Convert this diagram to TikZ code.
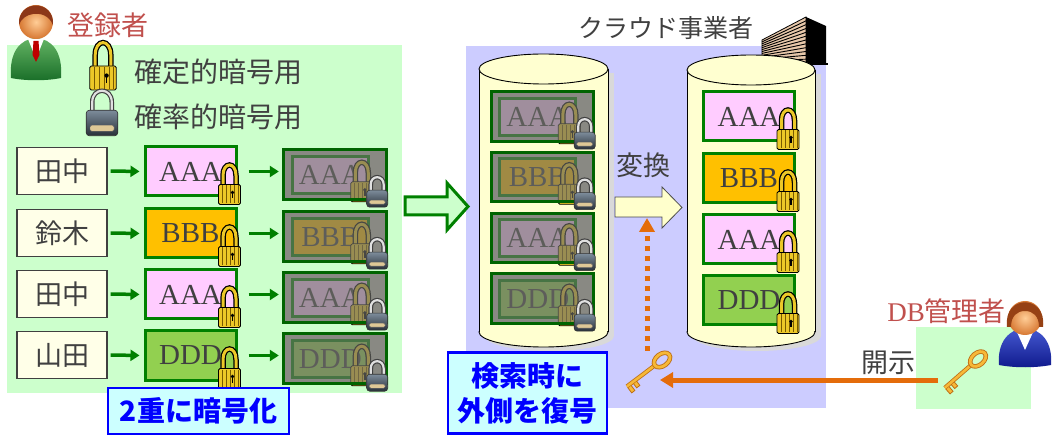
\documentclass[tikz,border=0pt]{standalone}
\usepackage{fontspec}
\setmainfont{Liberation Serif}
\newfontfamily\jpfont{Noto Sans CJK JP}
\usepackage{tikz}
\usetikzlibrary{positioning, arrows.meta, calc}

\definecolor{regpanel}{RGB}{204,255,204}
\definecolor{cloudpanel}{RGB}{204,204,255}
\definecolor{namefill}{RGB}{255,255,232}
\definecolor{cylfill}{RGB}{255,255,208}
\definecolor{boxpink}{RGB}{255,204,255}
\definecolor{boxorange}{RGB}{255,192,0}
\definecolor{boxgreen}{RGB}{146,208,80}
\definecolor{edgegreen}{RGB}{0,128,0}
\definecolor{deepgreen}{RGB}{0,100,0}
\definecolor{textgray}{RGB}{64,64,64}
\definecolor{rolered}{RGB}{192,80,77}
\definecolor{labelblue}{RGB}{0,0,255}
\definecolor{labelfill}{RGB}{204,255,255}
\definecolor{keyorange}{RGB}{228,108,10}
\definecolor{lockgold}{RGB}{236,200,40}
\definecolor{lockdark}{RGB}{120,90,0}
\definecolor{slatetop}{RGB}{125,140,155}
\definecolor{slatebot}{RGB}{40,48,56}
\definecolor{locktag}{RGB}{222,200,150}
\definecolor{keygold}{RGB}{246,184,56}
\definecolor{keyedge}{RGB}{190,110,20}
\definecolor{fadegray}{RGB}{110,110,105}
\definecolor{encbase}{RGB}{190,190,180}
\definecolor{convfill}{RGB}{255,255,204}
\definecolor{buildtan}{RGB}{232,200,170}
\definecolor{skinlight}{RGB}{255,205,150}
\definecolor{skindark}{RGB}{215,120,50}
\definecolor{hairred}{RGB}{140,55,25}
\definecolor{hairbrown}{RGB}{150,65,20}
\definecolor{suitlight}{RGB}{100,180,100}
\definecolor{suitdark}{RGB}{25,110,40}
\definecolor{bluelight}{RGB}{70,90,210}
\definecolor{bluedark}{RGB}{15,25,140}

\tikzset{
  pics/goldlock/.style={code={
    \draw[line width=5.5, black] (-6.5,-8) -- (-6.5,-19)
      .. controls (-6.5,-33) and (6.5,-33) .. (6.5,-19) -- (6.5,-8);
    \draw[line width=3, lockgold] (-6.5,-8) -- (-6.5,-19)
      .. controls (-6.5,-33) and (6.5,-33) .. (6.5,-19) -- (6.5,-8);
    \draw[fill=lockgold, line width=0.8, rounded corners=1.5]
      (-11,-10) rectangle (11,10);
    \foreach \sx in {-7,-3,1,5,9}
      \draw[lockdark, line width=1] (\sx,-9) -- (\sx,9);
    \fill[black] (3,-2) circle (1.8);
    \fill[black] (2.3,-2) rectangle (3.7,4);
  }},
  pics/greylock/.style={code={
    \draw[line width=4.5, black!75] (-6.5,-6) -- (-6.5,-14)
      .. controls (-6.5,-24) and (6.5,-24) .. (6.5,-14) -- (6.5,-6);
    \draw[line width=2.2, black!12] (-6.5,-6) -- (-6.5,-14)
      .. controls (-6.5,-24) and (6.5,-24) .. (6.5,-14) -- (6.5,-6);
    \shade[top color=slatetop, bottom color=slatebot, rounded corners=3]
      (-10.5,-8.5) rectangle (10.5,8.5);
    \draw[black!80, line width=0.6, rounded corners=3]
      (-10.5,-8.5) rectangle (10.5,8.5);
    \draw[fill=locktag, draw=black!60, line width=0.4, rounded corners=1.5]
      (-8,1.5) rectangle (8,5.5);
  }},
  pics/key/.style={code={
    \draw[keyedge, line width=4.2] (9,0) -- (44,0);
    \draw[keyedge, line width=0.8, fill=keygold]
      (33,-1.5) rectangle (37,-7) (40,-1.5) rectangle (44,-8);
    \draw[keygold, line width=2.6] (9,0) -- (44,0);
    \draw[keyedge, line width=4.5] (0,0) ellipse [x radius=9, y radius=6];
    \draw[keygold, line width=2.8] (0,0) ellipse [x radius=9, y radius=6];
  }},
  pics/registrant/.style={code={
    \shade[top color=suitlight, bottom color=suitdark]
      (-25,56) .. controls (-27,30) and (-16,17) .. (0,16)
      .. controls (16,17) and (27,30) .. (25,56)
      .. controls (10,59) and (-10,59) .. cycle;
    \fill[white] (-8,17) -- (8,17) -- (0,37) -- cycle;
    \fill[red!75!black] (-2.5,19) -- (2.5,19) -- (3.5,33) -- (0,40)
      -- (-3.5,33) -- cycle;
    \shade[inner color=skinlight, outer color=skindark] (0,0) circle (17);
    \fill[hairred] (-17,3) .. controls (-19,-23) and (19,-23) .. (17,3)
      .. controls (13,-7) and (4,-9) .. (-3,-8)
      .. controls (-10,-7) and (-15,-3) .. cycle;
  }},
  pics/dbadmin/.style={code={
    \shade[top color=bluelight, bottom color=bluedark]
      (-26,47) .. controls (-28,24) and (-16,11) .. (0,10)
      .. controls (16,11) and (28,24) .. (26,47)
      .. controls (10,50) and (-10,50) .. cycle;
    \fill[white] (-9,12) -- (9,12) -- (0,32) -- cycle;
    \shade[inner color=skinlight, outer color=skindark] (0,0) circle (17);
    \fill[hairbrown] (-18,9) .. controls (-22,-24) and (22,-24) .. (18,9)
      -- (14,9) .. controls (14,-2) and (8,-7) .. (0,-7)
      .. controls (-8,-7) and (-14,-2) .. (-14,9) -- cycle;
  }},
}

% plain box with its padlock
\newcommand{\lockbox}[4]{%
  \node[plainbox, fill=#3] (#1) at (#2) {#4};
  \pic[shift={(-8,-3)}] at (#1.south east) {goldlock};
}
% box locked twice: faded inner box, then the outer padlock
\newcommand{\encbox}[4]{%
  \node[encouter] (#1) at (#2) {};
  \node[plainbox, fill=#3, minimum width=76, minimum height=37,
    anchor=north west] (#1-in) at ([shift={(7,5)}]#1.north west) {#4};
  \pic[shift={(-8,-3)}] at (#1-in.south east) {goldlock};
  \fill[fadegray, opacity=0.65] (#1.north west) rectangle (#1.south east);
  \draw[deepgreen, line width=3] (#1.north west) rectangle (#1.south east);
  \pic[shift={(-9,-0.5)}] at (#1.south east) {greylock};
}
% database drum: left x, right x, top y, bottom y
\newcommand{\drum}[4]{%
  \pgfmathsetmacro{\dc}{(#1+#2)/2}\pgfmathsetmacro{\dr}{(#2-#1)/2}
  \fill[black!15] (#1+6,#3+4) rectangle (#2+6,#4+4);
  \fill[black!15] (\dc+6,#4+4) ellipse [x radius=\dr, y radius=15];
  \fill[cylfill] (#1,#3) rectangle (#2,#4);
  \fill[cylfill] (\dc,#4) ellipse [x radius=\dr, y radius=15];
  \begin{scope}
    \clip (#1-2,#4) rectangle (#2+2,#4+20);
    \draw[line width=0.9] (\dc,#4) ellipse [x radius=\dr, y radius=15];
  \end{scope}
  \draw[line width=0.9] (#1,#3) -- (#1,#4) (#2,#3) -- (#2,#4);
  \filldraw[line width=0.9, fill=cylfill] (\dc,#3)
    ellipse [x radius=\dr, y radius=15];
}

\begin{document}
\begin{tikzpicture}[
  x=1pt, y=-1pt,
  jptext/.style={font=\jpfont\fontsize{28}{28}\selectfont, text=textgray,
    inner sep=0pt},
  rolename/.style={font=\jpfont\fontsize{27}{27}\selectfont, text=rolered,
    inner sep=0pt},
  namebox/.style={draw=textgray, line width=1.2, fill=namefill,
    minimum width=90, minimum height=47, inner sep=0pt,
    font=\jpfont\fontsize{27}{27}\selectfont, text=textgray},
  plainbox/.style={draw=edgegreen, line width=3, minimum width=91,
    minimum height=49, inner sep=0pt, font=\fontsize{29}{29}\selectfont,
    text=textgray},
  encouter/.style={fill=encbase, minimum width=102, minimum height=49,
    inner sep=0pt},
  tag/.style={draw=labelblue, line width=2.5, fill=labelfill,
    text=labelblue, align=center, inner sep=0pt,
    font=\jpfont\bfseries\fontsize{28}{35}\selectfont},
  rowarrow/.style={-{Triangle[length=9, width=11]}, line width=3.5,
    edgegreen},
  bigarrow/.style={fill=regpanel, draw=edgegreen, line width=3,
    line join=miter},
  convarrow/.style={fill=convfill, draw=black!70, line width=0.8},
  disclose/.style={-{Triangle[length=13, width=15]}, line width=5,
    keyorange},
  decrypt/.style={-{Triangle[length=14, width=15]}, line width=5,
    keyorange, dash pattern=on 5 off 5},
]
\useasboundingbox (0,0) rectangle (1057,435);

% ── Panels ──────────────────────────────────────────────
\fill[regpanel] (7,45) rectangle (402,393);
\fill[cloudpanel] (466,46) rectangle (826,408);
\fill[regpanel] (916,327) rectangle (1031,409);

% ── Registrant and legend ───────────────────────────────
\pic at (36,22) {registrant};
\node[rolename] (regname) at (108,25) {登録者};

\pic[scale=1.2] at (103,78) {goldlock};
\node[jptext, anchor=west] (legdet) at (134,72) {確定的暗号用};
\pic[scale=1.5] at (102,123) {greylock};
\node[jptext, anchor=west] (legprob) at (134,117) {確率的暗号用};

% ── Rows: name -> encrypted -> encrypted twice ──────────
\node[namebox] (n1) at (62,171) {田中};
\node[namebox] (n2) at (62,233) {鈴木};
\node[namebox] (n3) at (62,294) {田中};
\node[namebox] (n4) at (62,355) {山田};

\lockbox{p1}{190.5,171.5}{boxpink}{AAA}
\lockbox{p2}{190.5,233.5}{boxorange}{BBB}
\lockbox{p3}{190.5,294.5}{boxpink}{AAA}
\lockbox{p4}{190.5,355.5}{boxgreen}{DDD}

\encbox{e1}{335,174.5}{boxpink}{AAA}
\encbox{e2}{335,236.5}{boxorange}{BBB}
\encbox{e3}{335,297.5}{boxpink}{AAA}
\encbox{e4}{335,358.5}{boxgreen}{DDD}

\draw[rowarrow, shorten <=3pt, shorten >=4pt] (n1.east) -- (p1.west);
\draw[rowarrow, shorten <=3pt, shorten >=4pt] (n2.east) -- (p2.west);
\draw[rowarrow, shorten <=3pt, shorten >=4pt] (n3.east) -- (p3.west);
\draw[rowarrow, shorten <=3pt, shorten >=4pt] (n4.east) -- (p4.west);
\draw[rowarrow, shorten <=11pt, shorten >=5pt] (p1.east) -- (p1.east -| e1.west);
\draw[rowarrow, shorten <=11pt, shorten >=5pt] (p2.east) -- (p2.east -| e2.west);
\draw[rowarrow, shorten <=11pt, shorten >=5pt] (p3.east) -- (p3.east -| e3.west);
\draw[rowarrow, shorten <=11pt, shorten >=5pt] (p4.east) -- (p4.east -| e4.west);

\node[tag, minimum width=181, minimum height=46] (twice) at (198.5,411)
  {2重に暗号化};

% hand-over to the cloud
\draw[bigarrow] (405,197) -- (447,197) -- (447,183) -- (468,206.5)
  -- (447,230) -- (447,215) -- (405,215) -- cycle;

% ── Cloud operator ──────────────────────────────────────
\node[jptext, font=\jpfont\fontsize{25}{25}\selectfont] (cloudname)
  at (666,28) {クラウド事業者};

% building
\fill[buildtan, draw=black, line width=0.8]
  (762,40) -- (806,17) -- (806,63) -- (762,63) -- cycle;
\foreach \k in {1,...,11}
  \draw[line width=0.9] (762,40+\k*23/12) -- (806,17+\k*46/12);
\fill[black] (806,17) -- (826,26) -- (826,63) -- (806,63) -- cycle;
\draw[line width=1.2] (757,64) -- (828,64);

% stored with both locks
\drum{479}{608}{69}{332}
\encbox{s1}{542.5,116.5}{boxpink}{AAA}
\encbox{s2}{542.5,177}{boxorange}{BBB}
\encbox{s3}{542.5,238}{boxpink}{AAA}
\encbox{s4}{542.5,298.5}{boxgreen}{DDD}

% outer lock removed
\drum{687}{815}{70}{332}
\lockbox{r1}{749,116.5}{boxpink}{AAA}
\lockbox{r2}{749,178.5}{boxorange}{BBB}
\lockbox{r3}{749,239.5}{boxpink}{AAA}
\lockbox{r4}{749,300.5}{boxgreen}{DDD}

\node[jptext, font=\jpfont\fontsize{27}{27}\selectfont] (convname)
  at (643,165) {変換};
\draw[convarrow] (615,197) -- (662,197) -- (662,187) -- (682,207.5)
  -- (662,228) -- (662,217) -- (615,217) -- cycle;
\coordinate (convfoot) at (647,218);

\node[tag, minimum width=159, minimum height=81] (search) at (527.5,393)
  {検索時に\\外側を復号};

% ── DB administrator ────────────────────────────────────
\pic at (1025,318) {dbadmin};
\node[rolename, anchor=east] (dbname) at (1006,311) {{\rmfamily DB}管理者};
\node[jptext, font=\jpfont\fontsize{27}{27}\selectfont] (discname)
  at (888,363) {開示};

% keys and their hand-over
\pic[rotate=221] at (978,359) {key};
\pic[rotate=217] at (662,360) {key};
\coordinate (keyB) at (938,380);
\coordinate (keyBend) at (660,380);
\coordinate (keyA) at (647,351);

\draw[disclose] (keyB) -- (keyBend);
\draw[decrypt] (keyA) -- (convfoot);

\end{tikzpicture}
\end{document}
